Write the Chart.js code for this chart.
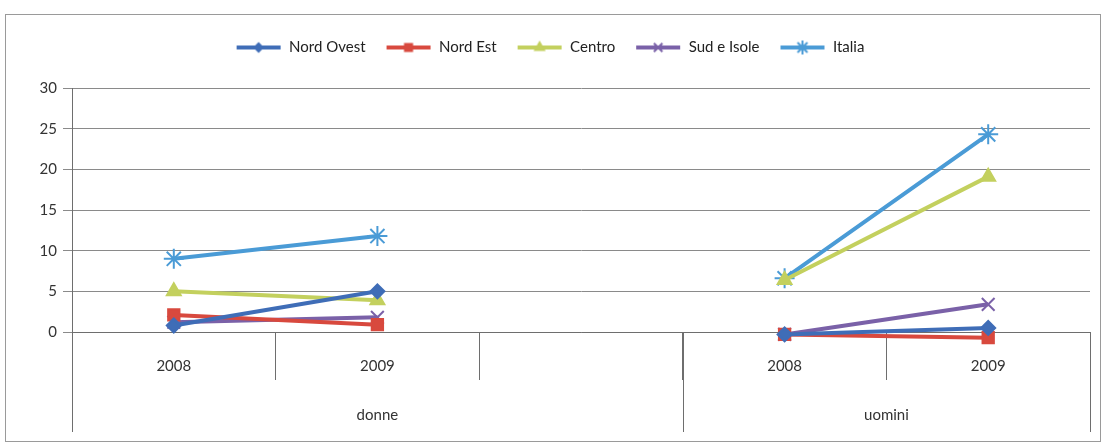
<!DOCTYPE html>
<html>
<head>
<meta charset="utf-8">
<script src="https://cdn.jsdelivr.net/npm/chart.js@4.4.1/dist/chart.umd.min.js"></script>
<style>
  body { margin: 0; background: #fff; }
  #wrap { position: relative; width: 1107px; height: 444px; }
  #frame { position: absolute; left: 5px; top: 14px; width: 1094px; height: 426px;
           border: 1px solid #9a9a9a; pointer-events: none; }
</style>
</head>
<body>
<div id="wrap">
  <canvas id="chart" width="1107" height="444"></canvas>
  <div id="frame"></div>
</div>
<script>
// ---- data ----
const categories = ['2008', '2009', '', '2008', '2009'];
const groupLabels = ['donne', 'uomini'];
const groupSpans = [3, 2];           // number of categories in each group
const yTicks = [0, 5, 10, 15, 20, 25, 30];

const nordOvest = [0.8, 5.0, null, -0.3, 0.5];
const nordEst   = [2.1, 0.9, null, -0.3, -0.7];
const centro    = [5.0, 3.9, null, 6.4, 19.1];
const sudIsole  = [1.2, 1.8, null, -0.3, 3.4];
const italia    = [9.0, 11.8, null, 6.6, 24.3];

const FONT = 'Lato, "Open Sans", sans-serif';

// small line+marker picture used as the legend key (like Excel)
function legendKey(color, style, radius) {
    const c = document.createElement('canvas');
    c.width = 46; c.height = 16;
    const g = c.getContext('2d');
    g.strokeStyle = color; g.lineWidth = 4;
    g.beginPath(); g.moveTo(1, 8); g.lineTo(45, 8); g.stroke();
    g.fillStyle = color;
    g.lineWidth = 2;
    g.beginPath();
    Chart.helpers.drawPoint(g, { pointStyle: style, radius: radius, borderWidth: 2 }, 23, 8);
    g.fill();
    return c;
}

function series(label, data, color, style, radius) {
    return {
        label: label,
        data: data,
        borderColor: color,
        backgroundColor: color,
        borderWidth: 4,
        pointStyle: style,
        pointRadius: radius,
        pointBorderWidth: 2,
        pointHoverRadius: radius,
        spanGaps: false,
        clip: false,
        tension: 0,
        legendKey: legendKey(color, style, radius - 3)
    };
}

// extra room between legend and plot
const legendGap = {
    id: 'legendGap',
    beforeInit(chart) {
        const fit = chart.legend.fit;
        chart.legend.fit = function () {
            fit.bind(chart.legend)();
            this.height += 23;
        };
    }
};

// group labels + long dividers under the category axis
const groupAxis = {
    id: 'groupAxis',
    afterDraw(chart) {
        const x = chart.scales.x;
        const ctx = chart.ctx;
        const step = (x.right - x.left) / categories.length;
        ctx.save();
        ctx.strokeStyle = '#6e6e6e';
        ctx.lineWidth = 1;
        ctx.fillStyle = '#333';
        ctx.font = '15px ' + FONT;
        ctx.textAlign = 'center';
        ctx.textBaseline = 'middle';
        let start = 0;
        const edges = [0];
        groupSpans.forEach((n, i) => {
            const a = x.left + start * step;
            const b = x.left + (start + n) * step;
            ctx.fillText(groupLabels[i], (a + b) / 2, 415);
            start += n;
            edges.push(start);
        });
        edges.forEach(e => {
            const px = Math.round(x.left + e * step) + 0.5;
            ctx.beginPath();
            ctx.moveTo(px, x.top);
            ctx.lineTo(px, 432);
            ctx.stroke();
        });
        ctx.restore();
    }
};

new Chart(document.getElementById('chart'), {
    type: 'line',
    data: {
        labels: categories,
        datasets: [
            series('Nord Ovest', nordOvest, '#3f6db7', 'rectRot', 7),
            series('Nord Est', nordEst, '#d8493e', 'rect', 8),
            series('Centro', centro, '#c3d05e', 'triangle', 8),
            series('Sud e Isole', sudIsole, '#7a61a8', 'crossRot', 9),
            series('Italia', italia, '#4a9bd6', 'star', 10)
        ]
    },
    options: {
        responsive: false,
        animation: false,
        layout: { padding: { left: 10, right: 17, top: 20, bottom: 0 } },
        plugins: {
            legend: {
                position: 'top',
                labels: {
                    usePointStyle: true,
                    pointStyleWidth: 46,
                    boxHeight: 16,
                    padding: 20,
                    color: '#222',
                    font: { family: FONT, size: 15 },
                    generateLabels(chart) {
                        return chart.data.datasets.map((ds, i) => ({
                            text: ds.label,
                            pointStyle: ds.legendKey,
                            fillStyle: ds.borderColor,
                            strokeStyle: ds.borderColor,
                            lineWidth: 0,
                            hidden: false,
                            datasetIndex: i,
                            fontColor: '#222'
                        }));
                    }
                }
            },
            tooltip: { enabled: false }
        },
        scales: {
            x: {
                type: 'category',
                offset: true,
                grid: {
                    offset: true,
                    drawOnChartArea: false,
                    color: '#6e6e6e',
                    tickLength: 48
                },
                border: { display: true, color: '#6e6e6e' },
                ticks: {
                    color: '#333',
                    font: { family: FONT, size: 15 },
                    padding: -23,
                    maxRotation: 0,
                    autoSkip: false
                },
                afterFit(scale) { scale.height = 112; }
            },
            y: {
                min: 0,
                max: 30,
                afterBuildTicks(scale) { scale.ticks = yTicks.map(v => ({ value: v })); },
                grid: { color: '#8a8a8a', tickLength: 9 },
                border: { display: true, color: '#6e6e6e' },
                ticks: {
                    color: '#333',
                    font: { family: FONT, size: 15 },
                    padding: 6
                },
                afterFit(scale) { scale.width = 62; }
            }
        }
    },
    plugins: [legendGap, groupAxis]
});
</script>
</body>
</html>
